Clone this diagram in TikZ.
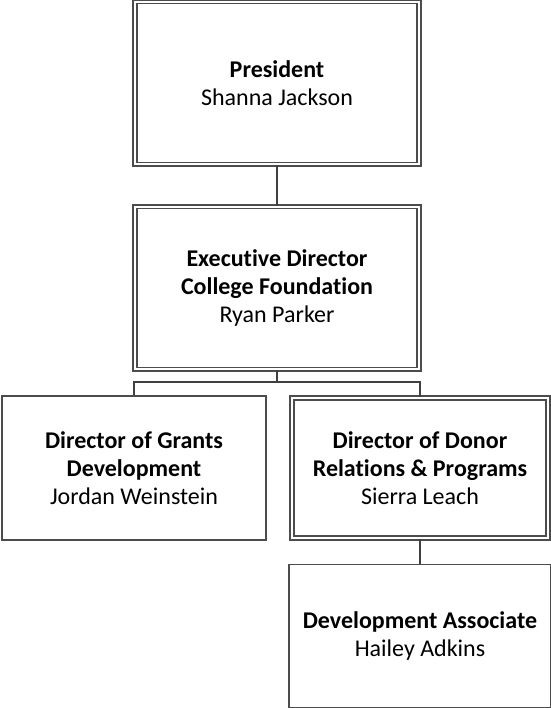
\documentclass[tikz,border=0pt]{standalone}
\usepackage{fontspec}
\setmainfont{Carlito}[Ligatures=NoCommon]
\usetikzlibrary{positioning}
\tikzset{every node/.style={align=center, inner sep=2pt, font=\fontsize{12}{14}\selectfont},
  plainbox/.style={draw=black!70, line width=0.75pt},
  dblbox/.style={draw=black!70, line width=0.75pt, double=white, double distance=1.1pt},
  link/.style={draw=black!75, line width=1.2pt}}

\begin{document}
\begin{tikzpicture}[x=0.5pt,y=-0.5pt]
  \useasboundingbox (0,0) rectangle (551,708);
  % top two boxes
  \node[dblbox, minimum width=142pt, minimum height=81.25pt] (pres) at (277,83)
    {\textbf{President}\\Shanna Jackson};
  \node[dblbox, minimum width=142pt, minimum height=81.25pt] (exec) at (277,288)
    {\textbf{Executive Director}\\\textbf{College Foundation}\\Ryan Parker};
  % second row
  \node[plainbox, minimum width=132pt, minimum height=72pt] (grants) at (134,468)
    {\textbf{Director of Grants}\\\textbf{Development}\\Jordan Weinstein};
  \node[dblbox, minimum width=128pt, minimum height=70pt] (donor) at (420,468)
    {\textbf{Director of Donor}\\\textbf{Relations \& Programs}\\Sierra Leach};
  \node[plainbox, minimum width=131pt, minimum height=71.5pt] (assoc) at (420,636)
    {\textbf{Development Associate}\\Hailey Adkins};
  % connectors
  \draw[link] (pres) -- (exec);
  \draw[link] (exec.south) -- ++(0,12) -| (grants.north);
  \draw[link] (exec.south) -- ++(0,12) -| (donor.north);
  \draw[link] (donor) -- (assoc);
\end{tikzpicture}
\end{document}
